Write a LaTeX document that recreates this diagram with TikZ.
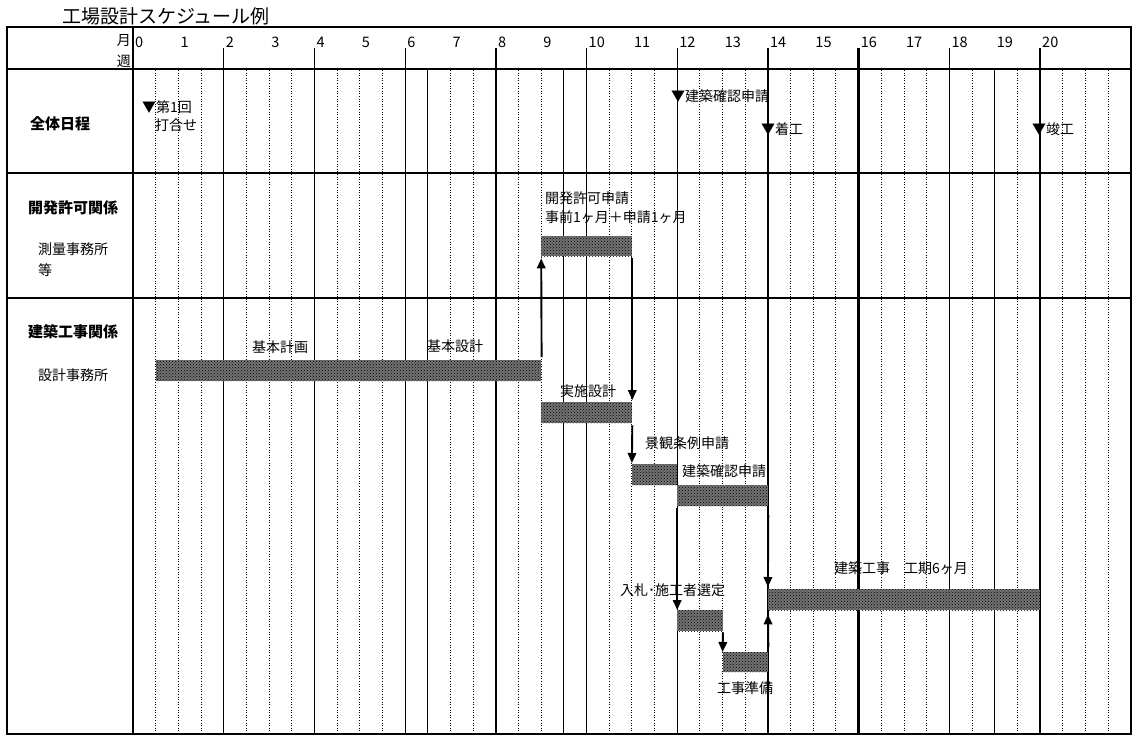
\documentclass[tikz,border=0pt]{standalone}
\usepackage{fontspec}
\setmainfont{Noto Sans CJK JP}
\usetikzlibrary{arrows.meta,patterns}
\begin{document}
\begin{tikzpicture}[x=1pt,y=-1pt,
  txt/.style={font=\fontsize{14}{16}\selectfont, inner sep=0pt, anchor=west},
  hdr/.style={font=\bfseries\fontsize{15}{17}\selectfont, inner sep=0pt, anchor=west},
  bar/.style={draw=none, inner sep=0pt, anchor=north west, preaction={fill=black!55}, pattern=crosshatch dots, pattern color=black},
  dotline/.style={line width=0.9pt, dash pattern=on 1pt off 1.6pt},
  thinline/.style={line width=1.2pt},
  thickline/.style={line width=2.4pt},
  frame/.style={line width=2.6pt},
  arr/.style={line width=1.9pt, -{Triangle[length=10pt,width=8.5pt]}}
]
\useasboundingbox (0,0) rectangle (1137,744);
% title
\node[font=\fontsize{19}{21}\selectfont, inner sep=0pt, anchor=south west] (title) at (62,25.5) {工場設計スケジュール例};
% dotted week lines
\foreach \k in {0.5,1,1.5,2.5,3,3.5,4.5,5,5.5,7,7.5,8.5,9,10.5,11,11.5,12.5,13,13.5,14.5,15,15.5,16.5,17,17.5,18.5,19.5,20.5,21,21.5}
  \draw[dotline] ({133+45.35*\k},70) -- ({133+45.35*\k},733);
% solid lines body only
\foreach \k in {6.5,9.5,19}
  \draw[thinline] ({133+45.35*\k},70) -- ({133+45.35*\k},733);
% solid lines from header
\foreach \k in {2,4,6,10,12,14,18,20}
  \draw[thinline] ({133+45.35*\k},48) -- ({133+45.35*\k},733);
\foreach \k in {8,16}
  \draw[thickline] ({133+45.35*\k},48) -- ({133+45.35*\k},733);
% month labels
\foreach \k in {0,...,20}
  \node[txt, font=\fontsize{14.5}{16}\selectfont] (m\k) at ({135+45.35*\k},42) {\k};
\node[txt, anchor=east] (tsuki) at (131,41) {月};
\node[txt, anchor=east] (shu) at (131,61) {週};
% horizontal lines
\draw[thinline] (7,173) -- (1131,173);
\draw[thinline] (7,298) -- (1131,298);
\draw[frame] (7,69) -- (1131,69);
\draw[thinline] (133,27) -- (133,734);
\draw[frame] (7,27) rectangle (1131,734);
% left labels
\node[hdr] (zentai) at (30,124) {全体日程};
\node[hdr] (kaihatsuK) at (28,208) {開発許可関係};
\node[txt] (sokuryo) at (38,249) {測量事務所};
\node[txt] (nado) at (38,270) {等};
\node[hdr] (kenchikuK) at (28,332) {建築工事関係};
\node[txt] (sekkei) at (38,375) {設計事務所};
% milestones
\node[txt] (ms1) at (142,107) {▼第1回};
\node[txt] (ms1b) at (155,125) {打合せ};
\node[txt] (ms2) at (671,96) {▼建築確認申請};
\node[txt] (ms3) at (761,129) {▼着工};
\node[txt] (ms4) at (1032,129) {▼竣工};
% bars
\node[bar, minimum width=385.5pt, minimum height=21pt] (kihon) at (155.7,360) {};
\node[bar, minimum width=90.7pt, minimum height=20pt] (kaihatsu) at (541.2,236) {};
\node[bar, minimum width=90.7pt, minimum height=21pt] (jisshi) at (541.2,402) {};
\node[bar, minimum width=45.35pt, minimum height=21pt] (keikan) at (631.9,464) {};
\node[bar, minimum width=90.7pt, minimum height=21pt] (kakunin) at (677.2,485) {};
\node[bar, minimum width=272.1pt, minimum height=21pt] (kouji) at (767.9,589) {};
\node[bar, minimum width=45.35pt, minimum height=21pt] (nyusatsu) at (677.2,610) {};
\node[bar, minimum width=45.35pt, minimum height=20pt] (junbi) at (722.6,652) {};
% bar labels
\node[txt] (lkaihatsu) at (545,198) {開発許可申請};
\node[txt] (lkaihatsu2) at (545,217) {事前1ヶ月＋申請1ヶ月};
\node[txt] (lkeikaku) at (252,347) {基本計画};
\node[txt] (lkihon) at (427,346) {基本設計};
\node[txt] (ljisshi) at (560,391) {実施設計};
\node[txt] (lkeikan) at (645,443) {景観条例申請};
\node[txt] (lkakunin) at (682,471) {建築確認申請};
\node[txt] (lkouji) at (834,568) {建築工事　工期6ヶ月};
\node[txt] (lnyusatsu) at (620,590) {入札･施工者選定};
\node[txt] (ljunbi) at (717,688) {工事準備};
% arrows
\draw[arr] ([yshift=3pt]kihon.north east) -- ([yshift=-2pt]kaihatsu.south west);
\draw[arr] ([yshift=-2pt]kaihatsu.south east) -- ([yshift=2pt]jisshi.north east);
\draw[arr] ([yshift=-2pt]jisshi.south east) -- ([yshift=1pt]keikan.north west);
\draw[arr] ([yshift=-2pt]kakunin.south west) -- (nyusatsu.north west);
\draw[arr] ([yshift=-9pt]kakunin.south east) -- ([yshift=2pt]kouji.north west);
\draw[arr] ([yshift=-1pt]nyusatsu.south east) -- (junbi.north west);
\draw[arr] ([yshift=5pt]junbi.north east) -- ([yshift=-4pt]kouji.south west);
\end{tikzpicture}
\end{document}
